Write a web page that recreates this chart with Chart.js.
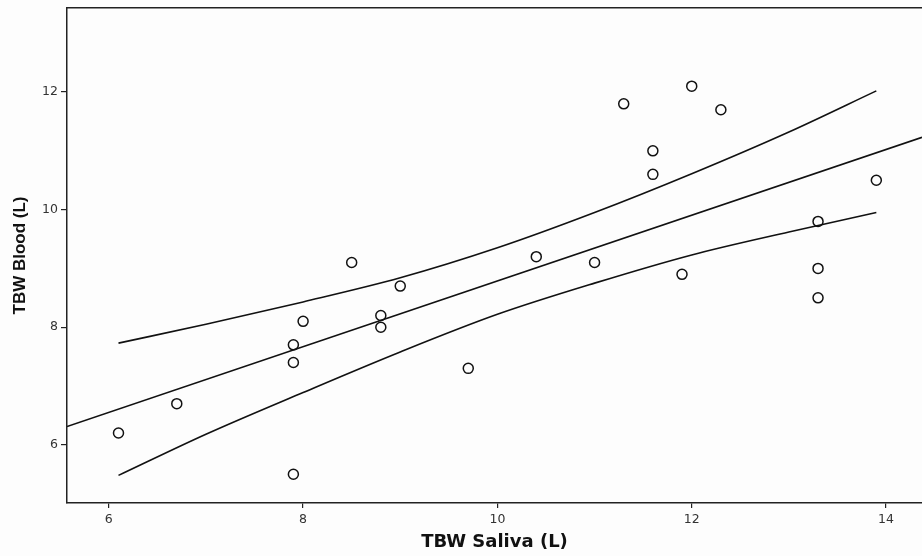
<!DOCTYPE html>
<html>
<head>
<meta charset="utf-8">
<script src="https://cdn.jsdelivr.net/npm/chart.js@4/dist/chart.umd.min.js"></script>
<style>
  html, body { margin: 0; padding: 0; background: #fdfdfd; overflow: hidden; }
  #wrap { width: 922px; height: 556px; }
</style>
</head>
<body>
<div id="wrap"><canvas id="tbwChart"></canvas></div>
<script>
// TBW saliva (x) vs TBW blood (y), litres
const salivaL = [6.1, 6.7, 7.9, 7.9, 7.9, 8.0, 8.5, 8.8, 8.8, 9.0, 9.7, 10.4, 11.0,
                 11.3, 11.6, 11.6, 11.9, 12.0, 12.3, 13.3, 13.3, 13.3, 13.9];
const bloodL  = [6.2, 6.7, 7.7, 7.4, 5.5, 8.1, 9.1, 8.2, 8.0, 8.7, 7.3, 9.2, 9.1,
                 11.8, 11.0, 10.6, 8.9, 12.1, 11.7, 9.8, 9.0, 8.5, 10.5];

// regression line, end to end across the axis
const fitX = [5.57, 14.37];
const fitY = [6.31, 11.23];

// 95% confidence band around the fit
const bandX     = [6.1, 7.0, 8.0, 9.0, 10.0, 11.0, 12.0, 13.0, 13.9];
const bandUpper = [7.73, 8.05, 8.43, 8.84, 9.35, 9.95, 10.61, 11.32, 12.02];
const bandLower = [5.48, 6.18, 6.89, 7.58, 8.22, 8.75, 9.23, 9.62, 9.95];

const xTicks = [6, 8, 10, 12, 14];
const yTicks = [6, 8, 10, 12];

const pts = (xs, ys) => xs.map((x, i) => ({ x: x, y: ys[i] }));
// drop the room Chart.js keeps for end labels so the plot reaches the canvas edge
const noPad = a => { a.paddingLeft = 0; a.paddingRight = 0; a.paddingTop = 0; a.paddingBottom = 0; };

const lineStyle = {
  type: 'line',
  borderColor: '#111',
  borderWidth: 1.6,
  pointRadius: 0,
  fill: false,
  tension: 0.4,
  cubicInterpolationMode: 'monotone'
};

const tickFont = { family: 'DejaVu Sans, sans-serif', size: 12.5 };
const xTitleFont = { family: 'DejaVu Sans, sans-serif', size: 18, weight: 'bold' };
const yTitleFont = { family: 'Liberation Sans, Arial, sans-serif', size: 17, weight: 'bold' };

new Chart(document.getElementById('tbwChart'), {
  type: 'scatter',
  data: {
    datasets: [
      {
        label: 'observed',
        data: pts(salivaL, bloodL),
        pointStyle: 'circle',
        pointRadius: 5,
        pointBorderWidth: 1.5,
        pointBorderColor: '#111',
        pointBackgroundColor: 'rgba(0,0,0,0)'
      },
      Object.assign({ label: 'fit', data: pts(fitX, fitY) }, lineStyle, { tension: 0 }),
      Object.assign({ label: 'upper', data: pts(bandX, bandUpper) }, lineStyle),
      Object.assign({ label: 'lower', data: pts(bandX, bandLower) }, lineStyle)
    ]
  },
  options: {
    responsive: true,
    maintainAspectRatio: false,
    animation: false,
    layout: { autoPadding: false, padding: { top: 8, right: 0, left: 0, bottom: 0 } },
    plugins: { legend: { display: false }, tooltip: { enabled: false } },
    scales: {
      x: {
        type: 'linear',
        min: 5.57,
        max: 14.37,
        afterBuildTicks: axis => { axis.ticks = xTicks.map(v => ({ value: v })); },
        afterFit: axis => { axis.height = 53; noPad(axis); },
        border: { display: true, color: '#222', width: 1.5 },
        grid: { drawOnChartArea: false, drawTicks: true, tickLength: 5, color: '#222', lineWidth: 1.2 },
        ticks: { color: '#333', font: tickFont, padding: 4 },
        title: { display: true, text: 'TBW Saliva (L)', color: '#111', font: xTitleFont, padding: { top: 2, bottom: 3 } }
      },
      xTop: {
        type: 'linear',
        position: 'top',
        min: 5.57,
        max: 14.37,
        afterFit: axis => { axis.height = 0; noPad(axis); },
        border: { display: true, color: '#222', width: 1.5 },
        grid: { display: false, drawTicks: false },
        ticks: { display: false }
      },
      y: {
        type: 'linear',
        min: 5.01,
        max: 13.43,
        afterBuildTicks: axis => { axis.ticks = yTicks.map(v => ({ value: v })); },
        afterFit: axis => { axis.width = 67; noPad(axis); },
        border: { display: true, color: '#222', width: 1.5 },
        grid: { drawOnChartArea: false, drawTicks: true, tickLength: 6, color: '#222', lineWidth: 1.2 },
        ticks: { color: '#333', font: tickFont, padding: 3 },
        title: { display: true, text: 'TBW Blood (L)', color: '#111', font: yTitleFont, padding: { top: 10, bottom: 4 } }
      }
    }
  }
});
</script>
</body>
</html>
